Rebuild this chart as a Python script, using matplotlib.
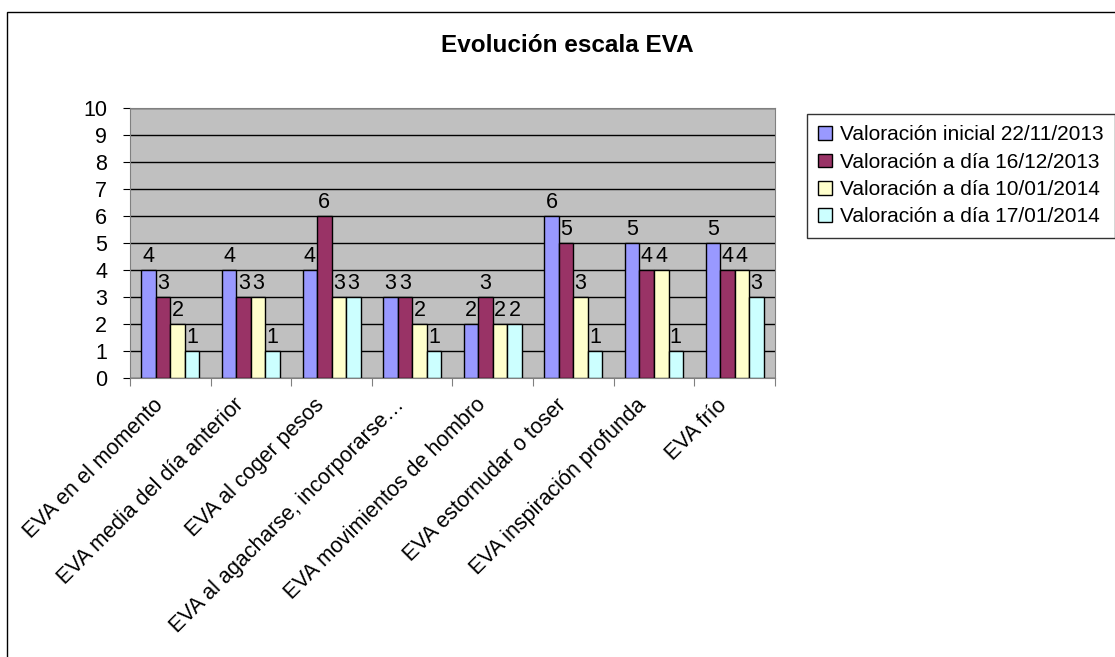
import numpy as np
import matplotlib
matplotlib.use("Agg")
import matplotlib.pyplot as plt
from matplotlib.patches import Rectangle
from matplotlib.transforms import ScaledTranslation

plt.rcParams['font.family'] = ['Liberation Sans', 'DejaVu Sans']

# =========================
# DATA
# =========================
categories = [
    "EVA en el momento",
    "EVA media del día anterior",
    "EVA al coger pesos",
    "EVA al agacharse, incorporarse…",
    "EVA movimientos de hombro",
    "EVA estornudar o toser",
    "EVA inspiración profunda",
    "EVA frío",
]
series_names = [
    "Valoración inicial 22/11/2013",
    "Valoración a día 16/12/2013",
    "Valoración a día 10/01/2014",
    "Valoración a día 17/01/2014",
]
inicial = [4, 4, 4, 3, 2, 6, 5, 5]
dia_16_12 = [3, 3, 6, 3, 3, 5, 4, 4]
dia_10_01 = [2, 3, 3, 2, 2, 3, 4, 4]
dia_17_01 = [1, 1, 3, 1, 2, 1, 1, 3]
colors = ["#9999FF", "#993366", "#FFFFCC", "#CCFFFF"]

FS = 15.5

# =========================
# FIGURE
# =========================
fig = plt.figure(figsize=(11.15, 6.57), dpi=100)
# chart frame (runs off the right and bottom edges)
fig.patches.append(Rectangle((0.0063, -0.05), 1.1, 1.032, transform=fig.transFigure,
                             fill=False, edgecolor="black", linewidth=1))

ax = fig.add_axes([0.1166, 0.4247, 0.5784, 0.411])
ax.set_facecolor("#C0C0C0")

x = np.arange(len(categories))
width = 0.18
all_series = [inicial, dia_16_12, dia_10_01, dia_17_01]
for i, vals in enumerate(all_series):
    pos = x + (i - 1.5) * width
    ax.bar(pos, vals, width, color=colors[i], edgecolor="black",
           linewidth=1, label=series_names[i], zorder=3)
    for xp, v in zip(pos, vals):
        ax.text(xp, v + 0.12, str(v), ha="center", va="bottom", fontsize=FS, zorder=4)

ax.set_xlim(-0.5, len(categories) - 0.5)
ax.set_ylim(0, 10)
ax.set_yticks(range(0, 11))
ax.yaxis.grid(True, color="black", linewidth=1, zorder=1)
ax.tick_params(axis="y", labelsize=FS, length=5, direction="out", pad=11.5)

# category boundary ticks with labels centered between them
ax.set_xticks(np.arange(-0.5, len(categories), 1.0))
ax.set_xticklabels([])
ax.tick_params(axis="x", length=6, direction="out", color="#808080")
ax.set_xticks(x, minor=True)
ax.set_xticklabels(categories, minor=True, rotation=45, ha="right",
                   rotation_mode="anchor", fontsize=FS)
ax.tick_params(axis="x", which="minor", length=0, pad=12)
shift = ScaledTranslation(-18 / 100, 0, fig.dpi_scale_trans)
for lbl in ax.get_xticklabels(minor=True):
    lbl.set_transform(lbl.get_transform() + shift)

for side in ["top", "right", "left", "bottom"]:
    ax.spines[side].set_color("#808080")

fig.text(0.509, 0.931, "Evolución escala EVA", ha="center", va="center",
         fontsize=17.5, fontweight="bold")

leg = fig.legend(loc="upper left", bbox_to_anchor=(0.7238, 0.8265), fontsize=15,
                 frameon=True, fancybox=False, edgecolor="black",
                 handlelength=0.65, handleheight=0.65, handletextpad=0.4,
                 labelspacing=0.4, borderpad=0.55, borderaxespad=0)
leg.get_frame().set_linewidth(1)

fig.savefig("out.png", dpi=100)
